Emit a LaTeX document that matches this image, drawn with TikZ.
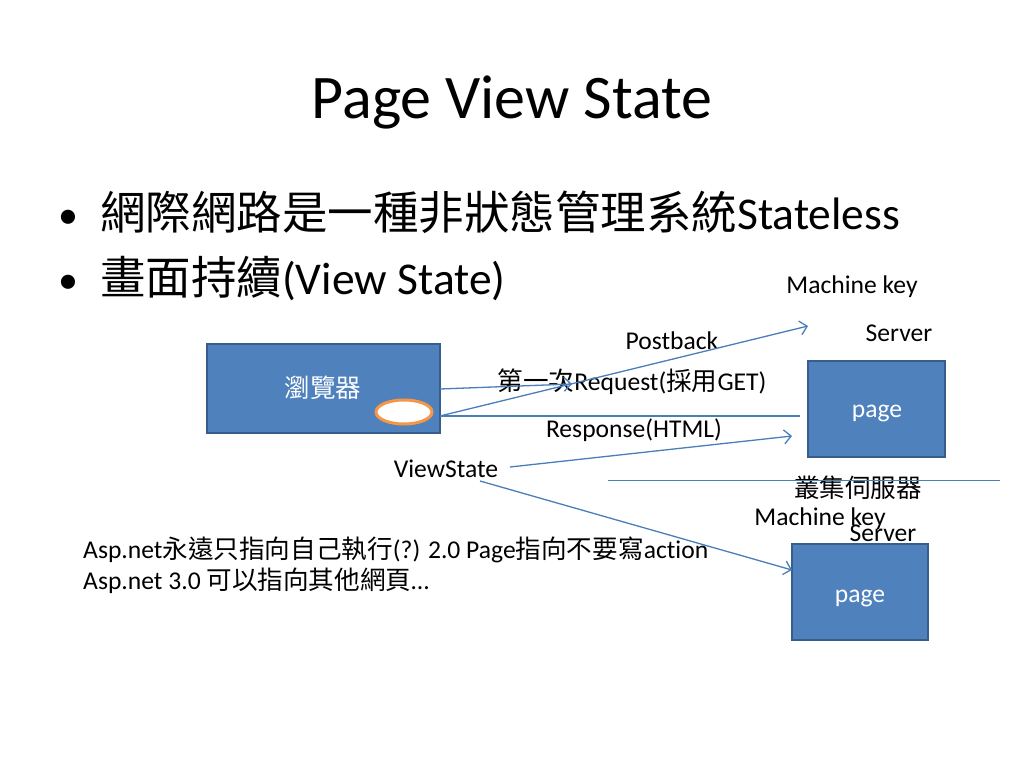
\documentclass[tikz,border=0pt]{standalone}
\usepackage{fontspec}
\setmainfont[Ligatures=NoCommon]{Carlito}
\newfontfamily\cjk{Noto Sans CJK TC}
\usetikzlibrary{arrows.meta,shapes.geometric}
\definecolor{boxfill}{HTML}{4F81BD}
\definecolor{boxline}{HTML}{385D8A}
\definecolor{linkblue}{HTML}{4A7EBB}
\definecolor{ovalorange}{HTML}{F79646}
\begin{document}
\begin{tikzpicture}[x=1pt,y=-1pt,
  bluebox/.style={draw=boxline,line width=2pt,fill=boxfill,text=white,inner sep=0pt},
  small/.style={font=\fontsize{25.6}{30}\selectfont,inner sep=0pt},
  bullettext/.style={font=\fontsize{45.5}{50}\selectfont,inner sep=0pt,anchor=base west},
  bulletmark/.style={font=\fontsize{40}{44}\selectfont,inner sep=0pt,anchor=base},
  link/.style={draw=linkblue,line width=1.3pt},
  arr/.style={link,-{Straight Barb[length=7pt,width=14pt]}}]
\useasboundingbox[fill=white] (0,0) rectangle (1024,768);
% title
\node[font=\fontsize{62}{68}\selectfont,inner sep=0pt,anchor=base] (title) at (512,118) {Page View State};
% bullets
\node[bulletmark] (b1) at (68,228) {•};
\node[bullettext] (t1) at (100,229) {{\cjk 網際網路是一種非狀態管理系統}Stateless};
\node[bulletmark] (b2) at (68,293) {•};
\node[bullettext] (t2) at (100,294) {{\cjk 畫面持續}(View State)};
% boxes
\node[bluebox,minimum width=233pt,minimum height=89pt] (browser) at (323.5,388.5) {};
\node[small,text=white] (browsertext) at (323,388) {\cjk 瀏覽器};
\node[draw=ovalorange,line width=3pt,fill=white,ellipse,minimum width=56pt,minimum height=24pt,inner sep=0pt] (oval) at (404,412) {};
\node[bluebox,minimum width=137pt,minimum height=96pt] (page1) at (876.5,409) {};
\node[small,text=white] (page1text) at (877,413) {page};
\node[bluebox,minimum width=136pt,minimum height=96pt] (page2) at (860,592) {};
\node[small,text=white] (page2text) at (860,598) {page};
% labels
\node[small,anchor=base] (mk1) at (852,293) {Machine key};
\node[small,anchor=base] (srv1) at (899,341) {Server};
\node[small,anchor=base] (postback) at (672,349) {Postback};
\node[small,anchor=base] (request) at (632,390) {{\cjk 第一次}Request({\cjk 採用}GET)};
\node[small,anchor=base] (response) at (634,437) {Response(HTML)};
\node[small,anchor=base] (vs) at (446,477) {ViewState};
\node[small,anchor=base] (cluster) at (858,497) {\cjk 叢集伺服器};
\node[small,anchor=base] (mk2) at (820,525) {Machine key};
\node[small,anchor=base] (srv2) at (883,541) {Server};
\node[small,anchor=base west] (note1) at (83,558) {Asp.net{\cjk 永遠只指向自己執行}(?) 2.0 Page{\cjk 指向不要寫}action};
\node[small,anchor=base west] (note2) at (83,589) {Asp.net 3.0 {\cjk 可以指向其他網頁}…};
% connector ends
\coordinate (bA) at (440,389);
\coordinate (bB) at (440,416);
\coordinate (reqtip) at (572,384);
\coordinate (posttip) at (808,326);
\coordinate (resend) at (800,416);
\coordinate (vsA) at (510,467);
\coordinate (vsB) at (480,481);
\coordinate (p1tip) at (792,436);
\coordinate (p2tip) at (792,570);
\coordinate (sepA) at (608,480);
\coordinate (sepB) at (1000,480);
% connectors
\draw[arr] (bA) -- (reqtip);
\draw[arr] (bB) -- (posttip);
\draw[link] (bB) -- (resend);
\draw[arr] (vsA) -- (p1tip);
\draw[arr] (vsB) -- (p2tip);
\draw[link,line width=1pt] (sepA) -- (sepB);
\end{tikzpicture}
\end{document}
